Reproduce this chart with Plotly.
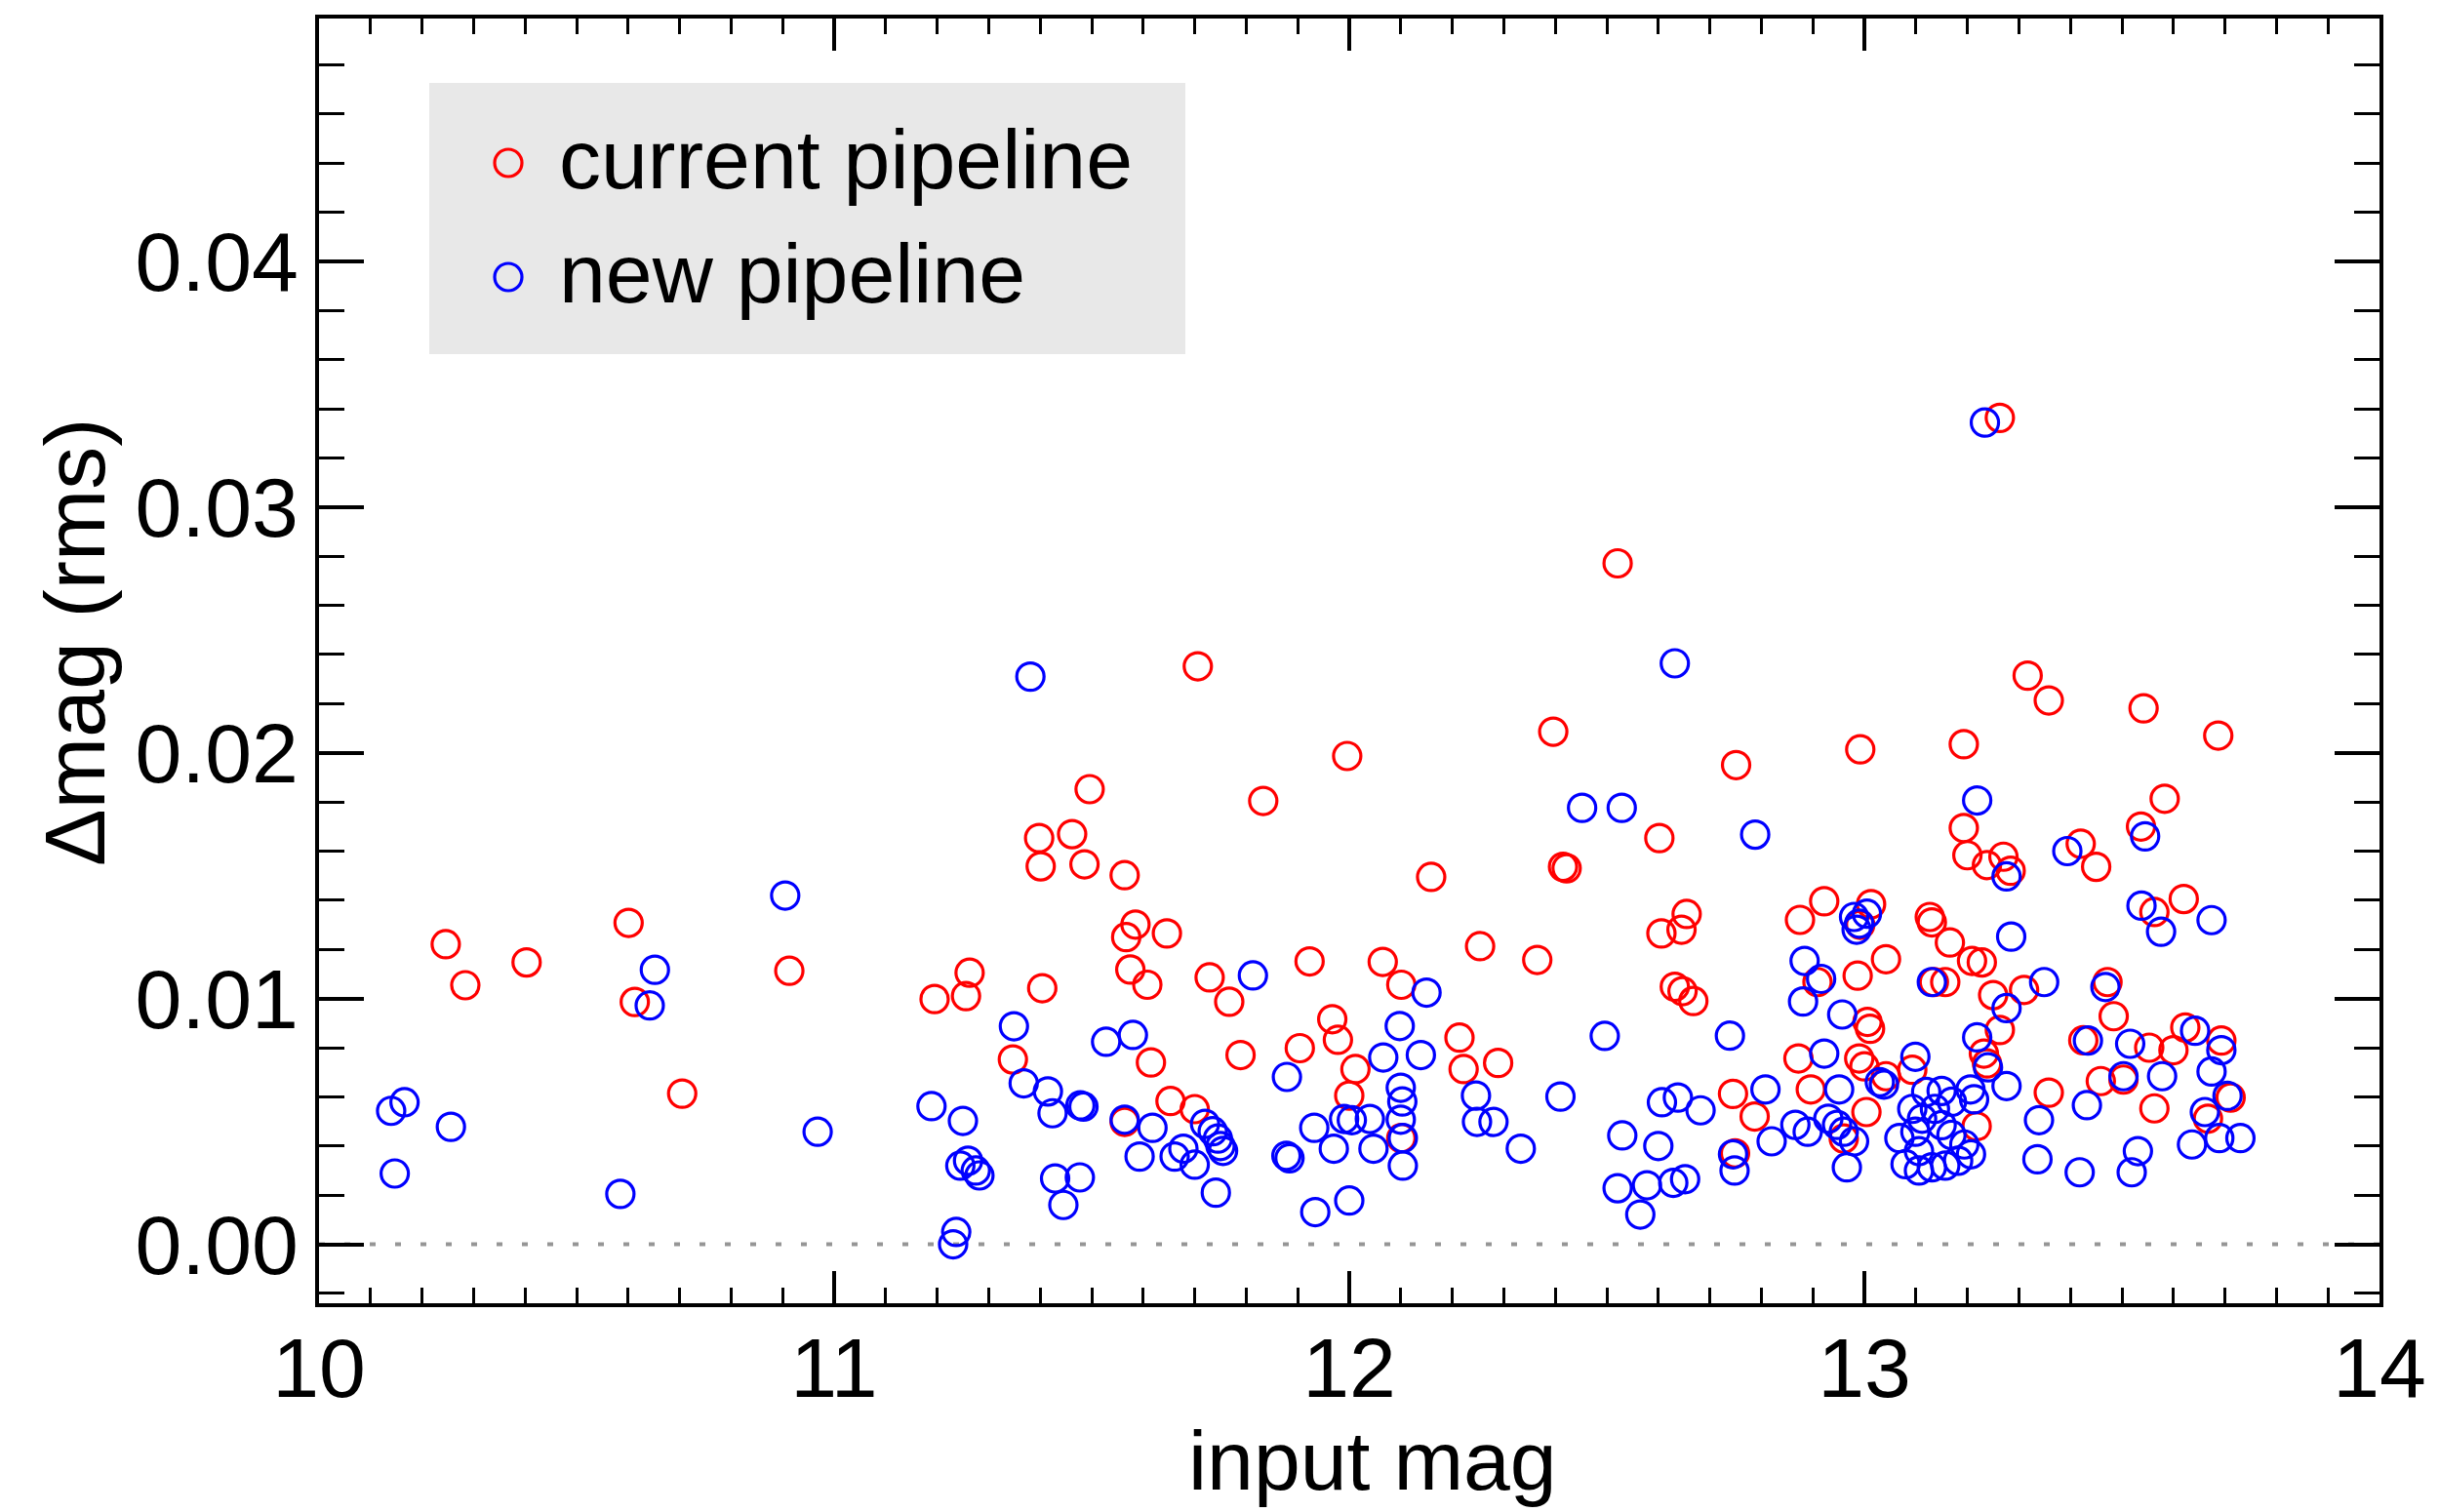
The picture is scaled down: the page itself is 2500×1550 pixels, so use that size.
import plotly.graph_objects as go

# ---- data ----
current_mag = [10.246, 10.284, 10.403, 10.601, 10.613, 10.705, 10.913, 11.195, 11.256, 11.263,
               11.347, 11.398, 11.401, 11.404, 11.462, 11.486, 11.496, 11.564, 11.585, 11.567,
               11.646, 11.575, 11.608, 11.615, 11.653, 11.700, 11.564, 11.706, 11.729, 11.767,
               11.789, 11.833, 11.904, 11.923, 11.967, 11.978, 11.996, 12.012, 12.000, 12.065,
               12.101, 12.101, 12.159, 12.214, 12.222, 12.254, 12.289, 12.365, 12.396, 12.415,
               12.422, 12.521, 12.602, 12.606, 12.645, 12.655, 12.632, 12.647, 12.668, 12.745,
               12.787, 12.749, 12.751, 12.872, 12.875, 12.896, 12.909, 12.922, 12.960, 12.987,
               12.992, 12.992, 12.990, 13.000, 13.004, 13.006, 13.011, 13.013, 13.042, 13.042,
               13.093, 13.127, 13.131, 13.135, 13.157, 13.166, 13.193, 13.193, 13.200, 13.238,
               13.270, 13.284, 13.209, 13.228, 13.250, 13.310, 13.263, 13.232, 13.238, 13.218,
               13.263, 13.317, 13.358, 13.358, 13.420, 13.450, 13.425, 13.459, 13.472, 13.484,
               13.503, 13.537, 13.542, 13.553, 13.563, 13.563, 13.583, 13.600, 13.620, 13.623,
               13.667, 13.687, 13.693, 13.711]
current_rms = [0.01221, 0.01054, 0.01147, 0.01308, 0.00986, 0.00613, 0.01113, 0.00998, 0.01010, 0.01105,
               0.00752, 0.01653, 0.01538, 0.01042, 0.01669, 0.01546, 0.01852, 0.01502, 0.01301, 0.01250,
               0.01265, 0.01118, 0.01056, 0.00740, 0.00583, 0.00550, 0.00498, 0.02352, 0.01086, 0.00987,
               0.00770, 0.01804, 0.00798, 0.01151, 0.00916, 0.00832, 0.01987, 0.00713, 0.00605, 0.01149,
               0.01056, 0.00432, 0.01495, 0.00841, 0.00713, 0.01213, 0.00738, 0.01157, 0.02086, 0.01536,
               0.01530, 0.02771, 0.01653, 0.01265, 0.01280, 0.01344, 0.01048, 0.01030, 0.00990, 0.00612,
               0.00520, 0.00370, 0.01950, 0.00756, 0.01320, 0.00630, 0.01067, 0.01396, 0.00430, 0.01093,
               0.01300, 0.02014, 0.00756, 0.00724, 0.00538, 0.00905, 0.00877, 0.01384, 0.01160, 0.00684,
               0.00710, 0.01332, 0.01310, 0.01067, 0.01067, 0.01228, 0.02035, 0.01694, 0.01583, 0.01543,
               0.01577, 0.01520, 0.01153, 0.01147, 0.01014, 0.01035, 0.00872, 0.00776, 0.00736, 0.00480,
               0.03363, 0.02314, 0.02213, 0.00617, 0.01630, 0.01536, 0.00830, 0.00664, 0.01067, 0.00928,
               0.00670, 0.01700, 0.02181, 0.00800, 0.01352, 0.00553, 0.01813, 0.00790, 0.01405, 0.00882,
               0.00511, 0.02070, 0.00829, 0.00597]

new_mag = [10.140, 10.166, 10.147, 10.256, 10.585, 10.652, 10.642, 10.905, 10.968, 11.189,
           11.250, 11.245, 11.260, 11.275, 11.282, 11.237, 11.231, 11.349, 11.368, 11.381,
           11.415, 11.424, 11.478, 11.484, 11.429, 11.477, 11.445, 11.528, 11.580, 11.564,
           11.593, 11.618, 11.661, 11.678, 11.700, 11.720, 11.735, 11.745, 11.750, 11.755,
           11.741, 11.813, 11.879, 11.878, 11.884, 11.932, 11.934, 11.970, 11.990, 12.005,
           12.040, 12.000, 12.047, 12.098, 12.066, 12.139, 12.100, 12.103, 12.100, 12.104,
           12.104, 12.150, 12.246, 12.248, 12.280, 12.333, 12.410, 12.452, 12.496, 12.529,
           12.521, 12.530, 12.565, 12.578, 12.600, 12.607, 12.638, 12.682, 12.632, 12.629,
           12.652, 12.739, 12.745, 12.748, 12.788, 12.808, 12.820, 12.866, 12.890, 12.884,
           12.916, 12.881, 12.957, 12.922, 12.951, 12.930, 12.947, 12.960, 12.980, 12.966,
           12.980, 12.990, 12.985, 13.005, 13.038, 13.030, 13.099, 13.150, 13.206, 13.213,
           13.276, 13.093, 13.112, 13.137, 13.150, 13.099, 13.169, 13.194, 13.068, 13.106,
           13.080, 13.106, 13.131, 13.157, 13.182, 13.207, 13.131, 13.219, 13.219, 13.234,
           13.240, 13.276, 13.276, 13.285, 13.339, 13.336, 13.349, 13.394, 13.432, 13.418,
           13.434, 13.468, 13.503, 13.516, 13.519, 13.531, 13.538, 13.545, 13.576, 13.578,
           13.636, 13.642, 13.661, 13.674, 13.674, 13.693, 13.705, 13.689, 13.730, 13.170,
           13.120]
new_rms = [0.00543, 0.00578, 0.00288, 0.00478, 0.00205, 0.01117, 0.00972, 0.01419, 0.00458, 0.00562,
           0.00502, 0.00320, 0.00340, 0.00300, 0.00280, 0.00050, 0.00000, 0.00887, 0.00655, 0.02310,
           0.00622, 0.00533, 0.00565, 0.00560, 0.00268, 0.00272, 0.00160, 0.00824, 0.00852, 0.00507,
           0.00357, 0.00474, 0.00357, 0.00389, 0.00324, 0.00490, 0.00460, 0.00430, 0.00400, 0.00380,
           0.00210, 0.01094, 0.00681, 0.00360, 0.00350, 0.00474, 0.00131, 0.00389, 0.00510, 0.00505,
           0.00510, 0.00178, 0.00389, 0.00888, 0.00760, 0.00770, 0.00637, 0.00581, 0.00507, 0.00432,
           0.00320, 0.01024, 0.00605, 0.00498, 0.00498, 0.00389, 0.00601, 0.01776, 0.00848, 0.01776,
           0.00228, 0.00443, 0.00121, 0.00240, 0.00400, 0.00578, 0.00597, 0.00545, 0.02364, 0.00250,
           0.00265, 0.00849, 0.00366, 0.00300, 0.01667, 0.00630, 0.00419, 0.00486, 0.00458, 0.01153,
           0.01080, 0.00988, 0.00935, 0.00776, 0.00630, 0.00511, 0.00486, 0.00458, 0.00419, 0.00313,
           0.01332, 0.01305, 0.01280, 0.01345, 0.00650, 0.00660, 0.00763, 0.00624, 0.00630, 0.00590,
           0.00644, 0.00551, 0.00511, 0.00551, 0.00485, 0.00458, 0.00445, 0.00406, 0.00432, 0.00379,
           0.00326, 0.00300, 0.00313, 0.00320, 0.00340, 0.00366, 0.01067, 0.00842, 0.01806, 0.03344,
           0.00720, 0.00961, 0.01497, 0.01252, 0.00505, 0.00346, 0.01067, 0.01600, 0.00566, 0.00293,
           0.00829, 0.01047, 0.00684, 0.00816, 0.00293, 0.00379, 0.01378, 0.01660, 0.01272, 0.00684,
           0.00406, 0.00869, 0.00538, 0.01319, 0.00703, 0.00790, 0.00604, 0.00432, 0.00432, 0.00580,
           0.00620]

series_names = ["current pipeline", "new pipeline"]
x_title = "input mag"
y_title = "Δmag (rms)"
x_ticks = [10, 11, 12, 13, 14]
y_ticks = [0.00, 0.01, 0.02, 0.03, 0.04]

FONT = "Liberation Sans, Arial, Helvetica, sans-serif"
FS = 86
RED = "rgb(255,0,0)"
BLUE = "rgb(0,0,255)"
MARKER_SIZE = 28
MARKER_LW = 3.2

# figure geometry (pixels)
W, H = 2500, 1550
ML, MR, MT, MB = 319, 69, 11, 222
PW, PH = W - ML - MR, H - MT - MB


def px_x(X):  # figure pixel -> paper x
    return (X - ML) / PW


def px_y(Y):  # figure pixel -> paper y
    return (H - MB - Y) / PH


fig = go.Figure()
fig.add_trace(go.Scatter(
    x=current_mag, y=current_rms, mode="markers", name=series_names[0],
    marker=dict(symbol="circle-open", size=MARKER_SIZE, color=RED, line=dict(width=MARKER_LW, color=RED)),
))
fig.add_trace(go.Scatter(
    x=new_mag, y=new_rms, mode="markers", name=series_names[1],
    marker=dict(symbol="circle-open", size=MARKER_SIZE, color=BLUE, line=dict(width=MARKER_LW, color=BLUE)),
))

# dotted zero line
fig.add_shape(type="line", xref="x domain", yref="y", x0=0, x1=1, y0=0, y1=0,
              line=dict(color="rgb(150,150,150)", width=4, dash="6px,20px"), layer="below")

# legend box drawn to match the reference's large markers
fig.add_shape(type="rect", xref="paper", yref="paper",
              x0=px_x(432), x1=px_x(1207), y0=px_y(355), y1=px_y(77),
              fillcolor="rgb(232,232,232)", line=dict(width=0), layer="above")
r = MARKER_SIZE / 2
for name, col, yc in [(series_names[0], RED, 159), (series_names[1], BLUE, 276)]:
    fig.add_shape(type="circle", xref="paper", yref="paper",
                  x0=px_x(513 - r), x1=px_x(513 + r), y0=px_y(yc + r), y1=px_y(yc - r),
                  line=dict(color=col, width=MARKER_LW), layer="above")
    fig.add_annotation(xref="paper", yref="paper", x=px_x(563), y=px_y(yc - 4),
                       xanchor="left", yanchor="middle", showarrow=False, text=name,
                       font=dict(family=FONT, size=FS, color="black"))

# axis titles
fig.add_annotation(xref="paper", yref="paper", x=px_x(1399), y=px_y(1489),
                   xanchor="center", yanchor="middle", showarrow=False, text=x_title,
                   font=dict(family=FONT, size=FS, color="black"))
fig.add_annotation(xref="paper", yref="paper", x=px_x(68), y=px_y(650),
                   xanchor="center", yanchor="middle", showarrow=False, text=y_title,
                   textangle=-90, font=dict(family=FONT, size=88, color="black"))

axis_common = dict(
    showline=True, linewidth=4, linecolor="black", mirror="ticks",
    ticks="inside", tickcolor="black", showgrid=False, zeroline=False,
    tickfont=dict(family=FONT, size=FS, color="black"),
)

fig.update_xaxes(
    range=[10, 14], tickvals=x_ticks, ticktext=[str(v) for v in x_ticks],
    ticklen=33, tickwidth=4, ticklabelstandoff=-11,
    minor=dict(dtick=0.1, tick0=10, ticks="inside", ticklen=16, tickwidth=3, tickcolor="black", showgrid=False),
    **axis_common,
)
fig.update_yaxes(
    range=[-0.0024, 0.04988], tickvals=y_ticks, ticktext=[f"{v:.2f}" for v in y_ticks],
    ticklen=46, tickwidth=4,
    minor=dict(dtick=0.002, tick0=0, ticks="inside", ticklen=26, tickwidth=3, tickcolor="black", showgrid=False),
    **axis_common,
)

fig.update_layout(
    width=W, height=H,
    margin=dict(l=ML, r=MR, t=MT, b=MB, autoexpand=False),
    paper_bgcolor="white", plot_bgcolor="white",
    font=dict(family=FONT, size=FS, color="black"),
    showlegend=False,
)

fig.write_html("out.html")
